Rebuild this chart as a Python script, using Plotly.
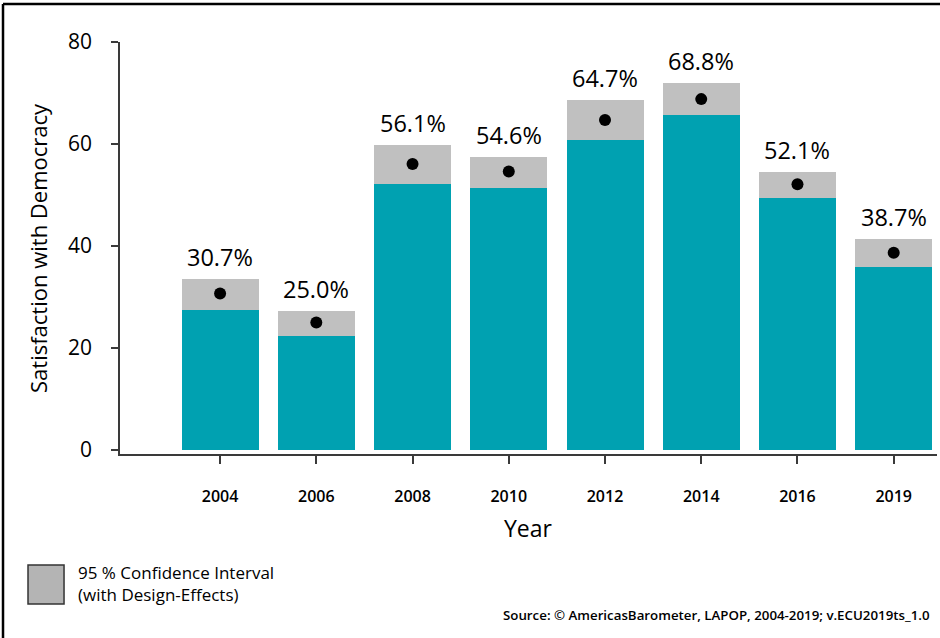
import plotly.graph_objects as go

years = ['2004', '2006', '2008', '2010', '2012', '2014', '2016', '2019']
estimate = [30.7, 25.0, 56.1, 54.6, 64.7, 68.8, 52.1, 38.7]
ci_low = [27.5, 22.4, 52.2, 51.4, 60.8, 65.7, 49.4, 35.9]
ci_high = [33.5, 27.3, 59.8, 57.5, 68.6, 72.0, 54.5, 41.4]
y_ticks = [0, 20, 40, 60, 80]

TEAL = '#00A1B1'
CI_GREY = '#C0C0C0'
AXIS = '#3a3a3a'
FONT = 'Open Sans'

ci_width = [hi - lo for lo, hi in zip(ci_low, ci_high)]
labels = [f'{v:.1f}%' for v in estimate]

fig = go.Figure()
fig.add_bar(x=years, y=ci_low, marker=dict(color=TEAL, line=dict(width=0)),
            hoverinfo='skip', showlegend=False)
fig.add_bar(x=years, y=ci_width, marker=dict(color=CI_GREY, line=dict(width=0)),
            hoverinfo='skip', showlegend=False)
fig.add_scatter(x=years, y=estimate, mode='markers',
                marker=dict(color='black', size=12), showlegend=False)

fig.update_layout(
    width=940, height=638,
    margin=dict(l=120, r=3, t=42, b=184),
    barmode='stack', bargap=0.2,
    plot_bgcolor='white', paper_bgcolor='white',
    font=dict(family=FONT, color='black'),
    xaxis=dict(
        type='category', range=[-1.04, 7.45],
        showline=True, linecolor=AXIS, linewidth=1.5,
        ticks='outside', ticklen=8, tickwidth=1.5, tickcolor=AXIS,
        tickfont=dict(size=16, family=FONT, weight=600),
        ticklabelstandoff=19,
        showgrid=False, zeroline=False,
    ),
    yaxis=dict(
        range=[-0.78, 80], tickvals=y_ticks,
        showline=True, linecolor=AXIS, linewidth=1.5,
        ticks='outside', ticklen=7, tickwidth=1.5, tickcolor=AXIS,
        tickfont=dict(size=21, family=FONT),
        ticklabelstandoff=15,
        showgrid=False, zeroline=False,
    ),
)

# value labels above each confidence band (category index, since the
# year strings would be read as numbers)
annotations = [
    dict(text=lab, x=i, y=hi, xref='x', yref='y',
         xanchor='center', yanchor='bottom', yshift=4, showarrow=False,
         font=dict(size=23.5, family=FONT))
    for i, (hi, lab) in enumerate(zip(ci_high, labels))
]

annotations += [
    dict(text='Year', x=0.5, y=-0.1796, xref='paper', yref='paper',
         xanchor='center', yanchor='middle', showarrow=False,
         font=dict(size=23, family=FONT)),
    dict(text='Satisfaction with Democracy', x=-0.1004, y=0.5,
         xref='paper', yref='paper', textangle=-90,
         xanchor='center', yanchor='middle', showarrow=False,
         font=dict(size=22, family=FONT)),
    # legend text for the CI box
    dict(text='95 % Confidence Interval<br>(with Design-Effects)',
         x=-0.0539, y=-0.3155, xref='paper', yref='paper',
         xanchor='left', yanchor='middle', align='left', showarrow=False,
         font=dict(size=17, family=FONT)),
    dict(text='Source: © AmericasBarometer, LAPOP, 2004-2019; v.ECU2019ts_1.0',
         x=0.9939, y=-0.391, xref='paper', yref='paper',
         xanchor='right', yanchor='middle', showarrow=False,
         font=dict(size=13.3, family=FONT, weight=600)),
]
fig.update_layout(annotations=annotations)

shapes = [
    # legend swatch
    dict(type='rect', xref='paper', yref='paper',
         x0=-0.1126, x1=-0.0685, y0=-0.364, y1=-0.2694,
         fillcolor='#B4B4B4', line=dict(color='#333333', width=1.5)),
    # outer frame (left and top edges)
    dict(type='line', xref='paper', yref='paper',
         x0=-0.1432, x1=-0.1432, y0=-0.5, y1=1.092,
         line=dict(color='black', width=2.5)),
    dict(type='line', xref='paper', yref='paper',
         x0=-0.1432, x1=1.1, y0=1.092, y1=1.092,
         line=dict(color='black', width=2.5)),
]
fig.update_layout(shapes=shapes)

fig.write_html('out.html', config={'displayModeBar': False},
               post_script="document.body.style.margin='0';")
